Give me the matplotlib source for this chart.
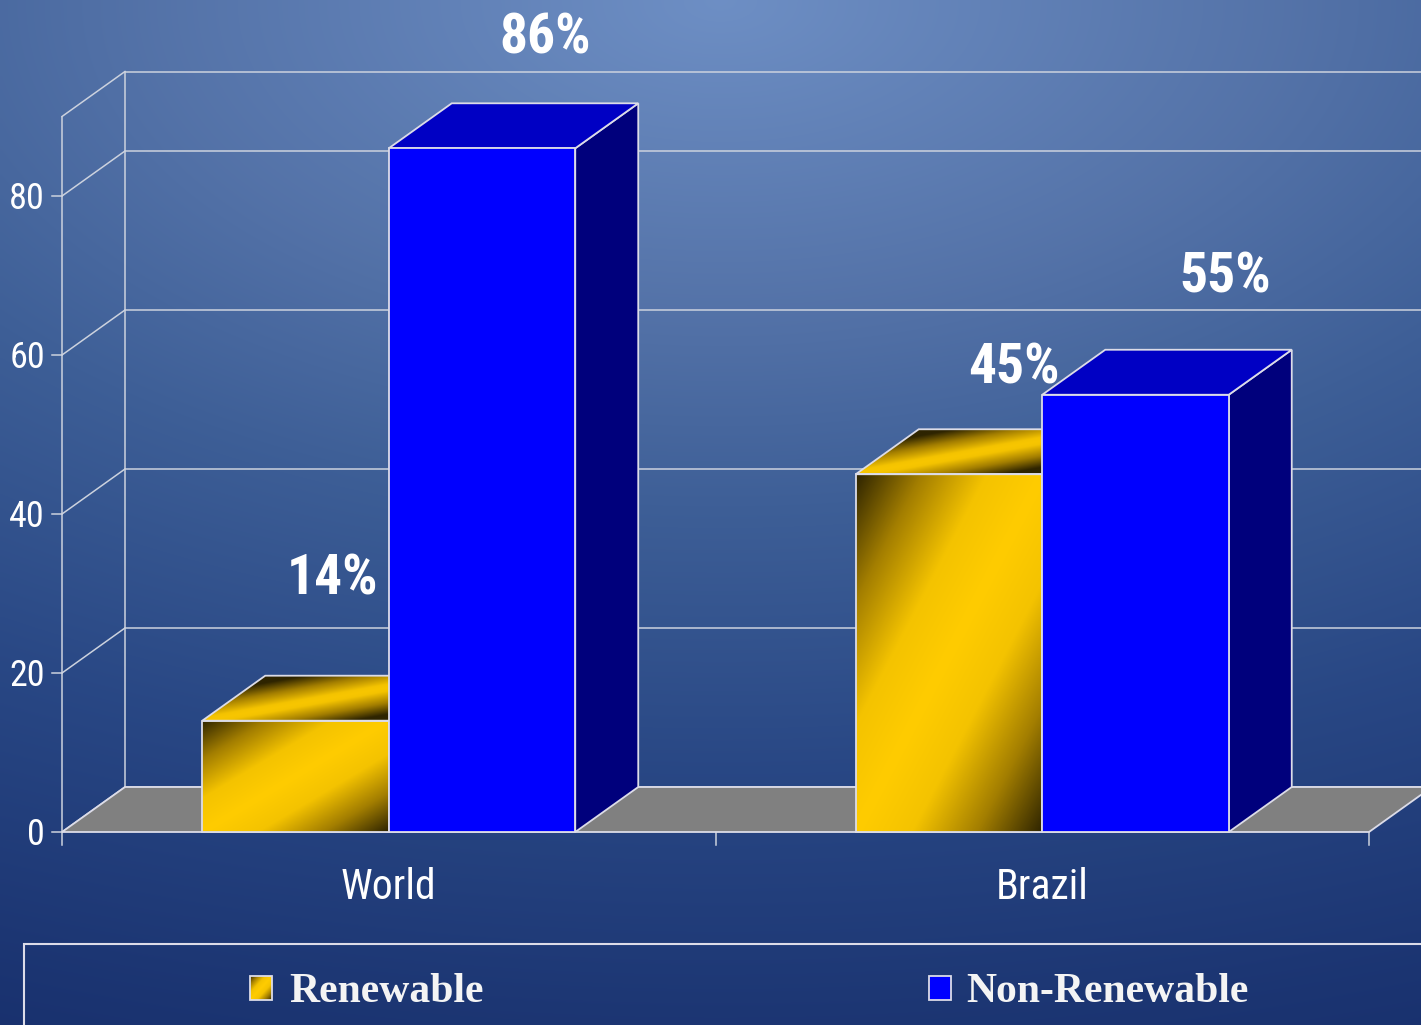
import numpy as np
import matplotlib
matplotlib.use('Agg')
import matplotlib.pyplot as plt
from matplotlib import font_manager
from matplotlib.patches import Polygon, Rectangle
from matplotlib.colors import LinearSegmentedColormap

# ── data ──────────────────────────────────────────────────────────────────────
categories    = ['World', 'Brazil']
series        = ['Renewable', 'Non-Renewable']
renewable     = [14, 45]
non_renewable = [86, 55]
yticks        = [0, 20, 40, 60, 80]
y_top         = 90

# ── layout (pixel scale of the 1421x1025 canvas) ─────────────────────────────
W_PX, H_PX   = 1421, 1025
X0_PX, Y0_PX = 388.75, 832      # pixel of (category 0, value 0) on the front plane
PX_PER_CAT   = 653.5
PX_PER_UNIT  = 7.95
BAR_W        = 186.5 / PX_PER_CAT
DX           = 63 / PX_PER_CAT   # depth offset, x
DY           = 45 / PX_PER_UNIT  # depth offset, y

def px_x(p): return (p - X0_PX) / PX_PER_CAT
def px_y(p): return (Y0_PX - p) / PX_PER_UNIT

# pick a narrow sans face if one is installed
fonts = font_manager.fontManager.ttflist
names = {f.name for f in fonts}
if 'Liberation Sans Narrow' in names:
    NARROW = dict(family='Liberation Sans Narrow')
elif 'Roboto Condensed' in names:
    NARROW = dict(family='Roboto Condensed')
else:
    NARROW = dict(family='Roboto')

LINE   = '#ccd2de'
EDGE   = '#dcdce8'

gold_cmap = LinearSegmentedColormap.from_list(
    'gold', [(0, '#ffcc00'), (0.3, '#f4c300'), (0.65, '#a37e00'), (1, '#2e2400')])

fig = plt.figure(figsize=(W_PX / 100, H_PX / 100), dpi=100)
ax = fig.add_axes([0, 0, 1, 1])
xlim = (px_x(0), px_x(W_PX))
ylim = (px_y(H_PX), px_y(0))
ax.set_xlim(*xlim); ax.set_ylim(*ylim)
ax.axis('off')

# ── background gradient ──────────────────────────────────────────────────────
gy, gx = np.mgrid[0:H_PX:4, 0:W_PX:4].astype(float)
r = np.sqrt(((gx - 720) / 1900) ** 2 + (gy / 1025) ** 2)
stops_r = [0, 0.3, 0.5, 0.75, 1.0, 1.3]
stops_c = np.array([(0.43, 0.56, 0.77), (0.33, 0.45, 0.66), (0.24, 0.37, 0.59),
                    (0.16, 0.28, 0.52), (0.11, 0.21, 0.45), (0.06, 0.14, 0.38)])
bg = np.dstack([np.interp(r, stops_r, stops_c[:, k]) for k in range(3)])
ax.imshow(bg, extent=(*xlim, *ylim), origin='upper', aspect='auto',
          interpolation='bilinear', zorder=0)

# ── walls, grid and floor ────────────────────────────────────────────────────
xl, xr = -0.5, len(categories) - 0.5
tick_len = 10 / PX_PER_CAT
drop = 13 / PX_PER_UNIT
for v in yticks + [y_top]:
    ax.plot([xl + DX, xr + DX], [v + DY, v + DY], color=LINE, lw=1.1, zorder=1)
    ax.plot([xl, xl + DX], [v, v + DY], color=LINE, lw=1.1, zorder=1)
for v in yticks:
    ax.plot([xl - tick_len, xl], [v, v], color=LINE, lw=1.1, zorder=1)
    ax.text(px_x(45), v - drop, str(v), color='white', fontsize=26, **NARROW,
            ha='right', va='baseline', zorder=6)
ax.plot([xl + DX, xl + DX], [DY, y_top + DY], color=LINE, lw=1.1, zorder=1)
ax.plot([xl, xl], [-drop, y_top], color=LINE, lw=1.1, zorder=1)
for c in np.arange(len(categories)) + 0.5:
    ax.plot([c, c], [-drop, 0], color=LINE, lw=1.1, zorder=1)

floor = Polygon([(xl, 0), (xr, 0), (xr + DX, DY), (xl + DX, DY)], closed=True,
                facecolor='#808080', edgecolor=EDGE, lw=1.3, zorder=2)
ax.add_patch(floor)

# ── bar drawing helpers ──────────────────────────────────────────────────────
def gradient_face(p0, a, b, z, bias=0.0):
    """Fill parallelogram p0 + u*a + t*b with the diagonal gold ramp."""
    p0, a, b = map(np.asarray, (p0, a, b))
    pts = np.array([p0, p0 + a, p0 + a + b, p0 + b])
    x_lo, y_lo = pts.min(0); x_hi, y_hi = pts.max(0)
    xs = np.linspace(x_lo, x_hi, 200)
    ys = np.linspace(y_lo, y_hi, 200)
    X, Y = np.meshgrid(xs, ys)
    M = np.linalg.inv(np.column_stack([a, b]))
    u = M[0, 0] * (X - p0[0]) + M[0, 1] * (Y - p0[1])
    t = M[1, 0] * (X - p0[0]) + M[1, 1] * (Y - p0[1])
    d = np.clip(np.abs(u - t) + bias, 0, 1)
    poly = Polygon(pts, closed=True, facecolor='none', edgecolor=EDGE, lw=1.3, zorder=z + 0.1)
    im = ax.imshow(d, cmap=gold_cmap, vmin=0, vmax=1, extent=(x_lo, x_hi, y_lo, y_hi),
                   origin='lower', aspect='auto', interpolation='bilinear', zorder=z)
    ax.add_patch(poly)
    im.set_clip_path(poly)

def flat_face(pts, color, z):
    ax.add_patch(Polygon(pts, closed=True, facecolor=color, edgecolor=EDGE,
                         lw=1.3, zorder=z))

def gold_bar(x, h, z):
    gradient_face((x, 0), (BAR_W, 0), (0, h), z)
    gradient_face((x, h), (BAR_W, 0), (DX, DY), z, bias=0.2)

def blue_bar(x, h, z):
    flat_face([(x + BAR_W, 0), (x + BAR_W + DX, DY), (x + BAR_W + DX, h + DY),
               (x + BAR_W, h)], '#00007c', z)
    flat_face([(x, h), (x + BAR_W, h), (x + BAR_W + DX, h + DY), (x + DX, h + DY)],
              '#0000c4', z)
    flat_face([(x, 0), (x + BAR_W, 0), (x + BAR_W, h), (x, h)], '#0000ff', z)

# value label offsets (pixels) from the back-top centre of each bar
ren_off = [(-26, 81), (2, 46)]
non_off = [(0, 50), (27, 57)]

for i, cat in enumerate(categories):
    z = 3 + 2 * i
    gold_bar(i - BAR_W, renewable[i], z)
    blue_bar(i, non_renewable[i], z + 1)
    for x, v, off in [(i - BAR_W, renewable[i], ren_off[i]),
                      (i, non_renewable[i], non_off[i])]:
        ax.annotate(f'{v}%', xy=(x + BAR_W / 2 + DX, v + DY), xytext=off,
                    textcoords='offset pixels', ha='center', va='baseline',
                    color='white', fontsize=40, fontweight='bold', **NARROW,
                    zorder=10)
    ax.text(i, px_y(899), cat, color='white', fontsize=30, **NARROW,
            ha='center', va='baseline', zorder=6)

# ── legend ───────────────────────────────────────────────────────────────────
ax.add_patch(Rectangle((px_x(24), px_y(1040)), px_x(1440) - px_x(24),
                       px_y(944) - px_y(1040), facecolor='none', edgecolor=EDGE,
                       lw=1.5, zorder=6))
mk_w, mk_h = 22 / PX_PER_CAT, 24 / PX_PER_UNIT
mk_y = px_y(1000)
gradient_face((px_x(250), mk_y), (mk_w, 0), (0, mk_h), 7)
ax.add_patch(Rectangle((px_x(929), mk_y), mk_w, mk_h, facecolor='#0000ff',
                       edgecolor=EDGE, lw=1.3, zorder=7))
for x_px, name in zip([289, 966], series):
    ax.text(px_x(x_px), px_y(1002), name, color='#f4f4f4', fontsize=30,
            fontweight='bold', family=['Liberation Serif', 'DejaVu Serif'],
            ha='left', va='baseline', zorder=7)

fig.savefig('out.png', dpi=100)
